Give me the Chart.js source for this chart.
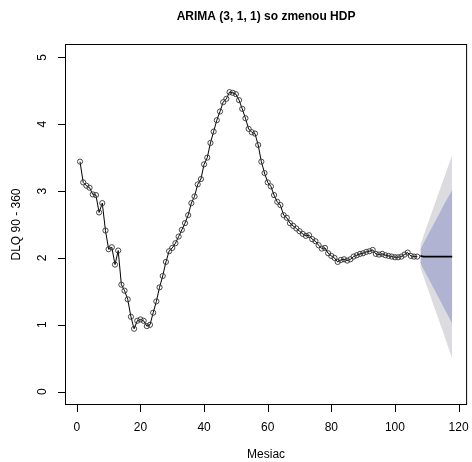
<!DOCTYPE html>
<html>
<head>
<meta charset="utf-8">
<script src="https://cdn.jsdelivr.net/npm/chart.js@4.4.0/dist/chart.umd.min.js"></script>
<style>
    html, body { margin: 0; padding: 0; background: #fff; }
    #wrap { width: 472px; height: 462px; }
</style>
</head>
<body>
<div id="wrap"><canvas id="chart" width="472" height="462"></canvas></div>
<script>
(function () {
    "use strict";

    const titleText = "ARIMA (3, 1, 1) so zmenou HDP";
    const xTitle = "Mesiac";
    const yTitle = "DLQ 90 - 360";
    const xTicks = [0, 20, 40, 60, 80, 100, 120];
    const yTicks = [0, 1, 2, 3, 4, 5];

    // observed series, months 1..107
    const dlq = [
        3.44, 3.13, 3.08, 3.05, 2.95, 2.94, 2.68, 2.82, 2.41, 2.13,
        2.16, 1.90, 2.11, 1.60, 1.51, 1.38, 1.12, 0.94, 1.06, 1.08,
        1.06, 0.98, 1.00, 1.18, 1.35, 1.56, 1.73, 1.94, 2.10, 2.15,
        2.22, 2.32, 2.42, 2.52, 2.64, 2.82, 2.92, 3.10, 3.18, 3.40,
        3.50, 3.72, 3.89, 4.06, 4.19, 4.33, 4.38, 4.48, 4.47, 4.45,
        4.36, 4.23, 4.09, 3.93, 3.88, 3.86, 3.69, 3.44, 3.27, 3.13,
        3.07, 2.94, 2.84, 2.79, 2.64, 2.60, 2.52, 2.48, 2.44, 2.40,
        2.36, 2.33, 2.34, 2.28, 2.25, 2.19, 2.14, 2.15, 2.07, 2.03,
        2.00, 1.94, 1.97, 1.98, 1.96, 1.98, 2.02, 2.04, 2.06, 2.07,
        2.09, 2.10, 2.12, 2.06, 2.05, 2.06, 2.04, 2.03, 2.02, 2.01,
        2.01, 2.02, 2.05, 2.08, 2.03, 2.02, 2.02
    ];

    // forecast, months 108..118
    const firstForecastMonth = 108;
    const fcMean = [2.03, 2.02, 2.02, 2.02, 2.02, 2.02, 2.02, 2.02, 2.02, 2.02, 2.02];
    const fcHi80 = [2.13, 2.22, 2.31, 2.40, 2.49, 2.58, 2.67, 2.76, 2.85, 2.93, 3.02];
    const fcLo80 = [1.92, 1.83, 1.74, 1.65, 1.56, 1.47, 1.38, 1.29, 1.20, 1.11, 1.02];
    const fcHi95 = [2.19, 2.33, 2.47, 2.60, 2.74, 2.87, 3.01, 3.14, 3.27, 3.41, 3.54];
    const fcLo95 = [1.86, 1.72, 1.58, 1.45, 1.31, 1.18, 1.04, 0.91, 0.77, 0.63, 0.49];

    const FONT = '"Liberation Sans", Arial, Helvetica, sans-serif';

    const hist = dlq.map((v, i) => ({ x: i + 1, y: v }));
    const fc = (arr) => arr.map((v, i) => ({ x: firstForecastMonth + i, y: v }));

    // R style box, ticks and labels
    const rAxes = {
        id: "rAxes",
        afterDraw(chart) {
            const ctx = chart.ctx;
            const a = chart.chartArea;
            const xs = chart.scales.x;
            const ys = chart.scales.y;
            ctx.save();
            ctx.strokeStyle = "#000";
            ctx.lineWidth = 1;
            ctx.strokeRect(a.left + 0.5, a.top + 0.5, a.right - a.left - 1, a.bottom - a.top - 1);

            ctx.fillStyle = "#000";
            ctx.font = "12px " + FONT;
            ctx.textAlign = "center";
            ctx.textBaseline = "middle";

            ctx.beginPath();
            xTicks.forEach((t) => {
                const px = Math.round(xs.getPixelForValue(t)) + 0.5;
                ctx.moveTo(px, a.bottom - 0.5);
                ctx.lineTo(px, a.bottom + 7);
            });
            yTicks.forEach((t) => {
                const py = Math.round(ys.getPixelForValue(t)) + 0.5;
                ctx.moveTo(a.left + 0.5, py);
                ctx.lineTo(a.left - 7, py);
            });
            ctx.stroke();

            xTicks.forEach((t) => {
                ctx.fillText(String(t), xs.getPixelForValue(t), a.bottom + 23);
            });
            yTicks.forEach((t) => {
                ctx.save();
                ctx.translate(a.left - 22, ys.getPixelForValue(t));
                ctx.rotate(-Math.PI / 2);
                ctx.fillText(String(t), 0, 0);
                ctx.restore();
            });

            ctx.fillText(xTitle, (a.left + a.right) / 2, 455);
            ctx.save();
            ctx.translate(17, (a.top + a.bottom) / 2);
            ctx.rotate(-Math.PI / 2);
            ctx.fillText(yTitle, 0, 0);
            ctx.restore();

            ctx.font = "bold 12px " + FONT;
            ctx.fillText(titleText, (a.left + a.right) / 2, 17);
            ctx.restore();
        },
    };

    const ctx = document.getElementById("chart").getContext("2d");
    new Chart(ctx, {
        type: "line",
        data: {
            datasets: [
                {
                    label: "DLQ",
                    data: hist,
                    borderColor: "#000",
                    borderWidth: 1,
                    pointRadius: 2.6,
                    pointBorderWidth: 0.9,
                    pointBorderColor: "#333",
                    pointBackgroundColor: "rgba(0,0,0,0)",
                    fill: false,
                },
                {
                    label: "Forecast",
                    data: fc(fcMean),
                    borderColor: "#000",
                    borderWidth: 1.8,
                    pointRadius: 0,
                    fill: false,
                },
                {
                    label: "Hi 80",
                    data: fc(fcHi80),
                    borderWidth: 0,
                    borderColor: "rgba(0,0,0,0)",
                    backgroundColor: "#B0B4D2",
                    pointRadius: 0,
                    fill: "+1",
                },
                {
                    label: "Lo 80",
                    data: fc(fcLo80),
                    borderWidth: 0,
                    borderColor: "rgba(0,0,0,0)",
                    pointRadius: 0,
                    fill: false,
                },
                {
                    label: "Hi 95",
                    data: fc(fcHi95),
                    borderWidth: 0,
                    borderColor: "rgba(0,0,0,0)",
                    backgroundColor: "#DBDBE0",
                    pointRadius: 0,
                    fill: "+1",
                },
                {
                    label: "Lo 95",
                    data: fc(fcLo95),
                    borderWidth: 0,
                    borderColor: "rgba(0,0,0,0)",
                    pointRadius: 0,
                    fill: false,
                },
            ],
        },
        options: {
            responsive: false,
            animation: false,
            devicePixelRatio: 1,
            layout: {
                padding: { left: 65, right: 0, top: 44, bottom: 57 },
            },
            elements: {
                line: { tension: 0 },
            },
            plugins: {
                legend: { display: false },
                title: { display: false },
                tooltip: { enabled: false },
            },
            scales: {
                x: {
                    type: "linear",
                    display: false,
                    min: -3.72,
                    max: 122.68,
                },
                y: {
                    type: "linear",
                    display: false,
                    min: -0.2,
                    max: 5.2,
                },
            },
        },
        plugins: [rAxes],
    });
})();
</script>
</body>
</html>
